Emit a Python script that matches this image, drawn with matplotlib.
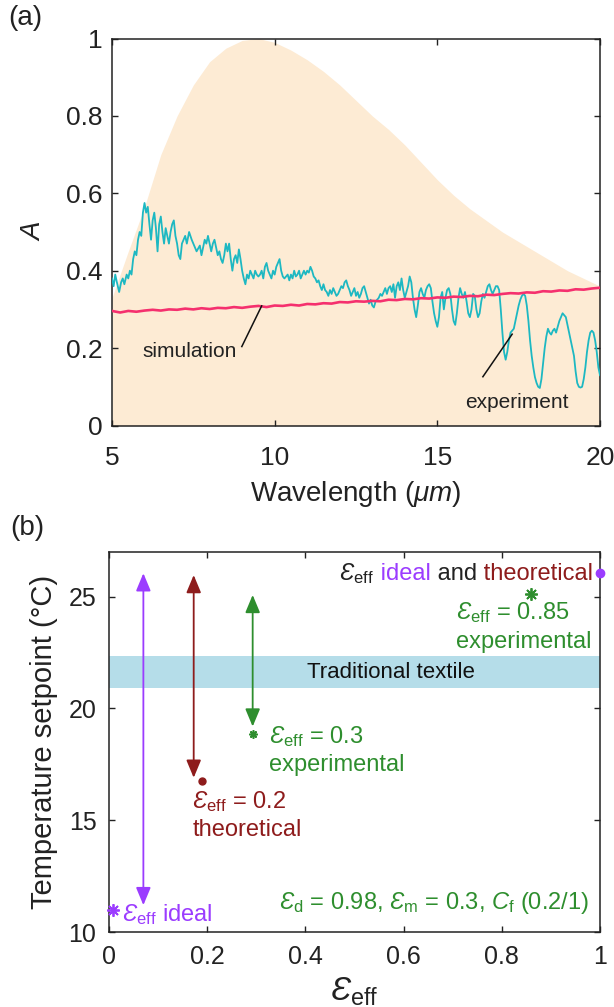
import matplotlib
matplotlib.use("Agg")
import matplotlib.pyplot as plt
from matplotlib.offsetbox import TextArea, HPacker, AnnotationBbox

plt.rcParams["font.family"] = ["Liberation Sans", "DejaVu Sans"]
plt.rcParams["mathtext.fontset"] = "custom"
plt.rcParams["mathtext.rm"] = "Liberation Sans"
plt.rcParams["mathtext.it"] = "Liberation Sans:italic"
plt.rcParams["mathtext.bf"] = "Liberation Sans:bold"

# ---------------- (a) absorptance spectra ----------------
# normalised blackbody spectrum (shaded background)
bb_wl = [5.0, 5.5, 6.0, 6.5, 7.0, 7.5, 8.0, 8.5, 9.0, 9.5, 10.0, 10.5, 11.0,
         11.5, 12.0, 12.5, 13.0, 13.5, 14.0, 14.5, 15.0, 15.5, 16.0, 16.5,
         17.0, 17.5, 18.0, 18.5, 19.0, 19.5, 20.0]
bb_val = [0.33, 0.45, 0.565, 0.70, 0.80, 0.88, 0.94, 0.975, 0.995, 1.0, 0.99,
          0.97, 0.945, 0.915, 0.88, 0.84, 0.80, 0.765, 0.725, 0.68, 0.635,
          0.595, 0.56, 0.53, 0.50, 0.475, 0.45, 0.425, 0.40, 0.38, 0.36]

# simulated absorptance
sim_wl = [5.0 + 0.25 * i for i in range(61)]
sim_abs = [0.296, 0.292, 0.296, 0.294, 0.297, 0.299, 0.297, 0.300, 0.299, 0.302,
           0.300, 0.303, 0.301, 0.304, 0.303, 0.306, 0.304, 0.307, 0.309, 0.306,
           0.310, 0.309, 0.312, 0.310, 0.314, 0.313, 0.316, 0.315, 0.319, 0.318,
           0.321, 0.320, 0.322, 0.321, 0.325, 0.324, 0.327, 0.326, 0.329, 0.328,
           0.331, 0.330, 0.333, 0.332, 0.335, 0.334, 0.338, 0.337, 0.340, 0.342,
           0.341, 0.344, 0.343, 0.347, 0.346, 0.349, 0.348, 0.352, 0.351, 0.354,
           0.356]

# measured absorptance
exp_wl = [5.00, 5.05, 5.10, 5.15, 5.22, 5.28, 5.33, 5.38, 5.45, 5.50, 5.55, 5.60,
          5.65, 5.70, 5.75, 5.80, 5.85, 5.90, 5.95, 6.00, 6.05, 6.10, 6.15, 6.20,
          6.25, 6.30, 6.35, 6.40, 6.45, 6.50, 6.55, 6.60, 6.65, 6.70, 6.75, 6.80,
          6.85, 6.90, 6.95, 7.00, 7.05, 7.10, 7.15, 7.20, 7.25, 7.30, 7.37, 7.45,
          7.50, 7.55, 7.60, 7.70, 7.75, 7.80, 7.85, 7.90, 7.95, 8.00, 8.05, 8.10,
          8.15, 8.20, 8.25, 8.30, 8.35, 8.40, 8.45, 8.50, 8.55, 8.60, 8.65, 8.70,
          8.75, 8.80, 8.85, 8.90, 8.95, 9.00, 9.05, 9.10, 9.15, 9.20, 9.25, 9.30,
          9.35, 9.40, 9.45, 9.50, 9.55, 9.60, 9.65, 9.70, 9.75, 9.80, 9.85, 9.90,
          9.95, 10.00, 10.05, 10.10, 10.15, 10.20, 10.25, 10.30, 10.40, 10.45,
          10.50, 10.55, 10.60, 10.65, 10.70, 10.75, 10.80, 10.85, 10.90, 10.95,
          11.00, 11.05, 11.10, 11.15, 11.20, 11.25, 11.30, 11.35, 11.40, 11.45,
          11.50, 11.55, 11.60, 11.65, 11.70, 11.75, 11.80, 11.85, 11.90, 11.95,
          12.00, 12.05, 12.10, 12.15, 12.20, 12.25, 12.30, 12.35, 12.40, 12.45,
          12.50, 12.55, 12.60, 12.65, 12.70, 12.75, 12.80, 12.85, 12.90, 12.95,
          13.00, 13.05, 13.10, 13.15, 13.20, 13.25, 13.30, 13.35, 13.40, 13.45,
          13.50, 13.55, 13.60, 13.65, 13.70, 13.75, 13.80, 13.85, 13.90, 13.95,
          14.00, 14.05, 14.10, 14.15, 14.20, 14.25, 14.30, 14.35, 14.40, 14.45,
          14.50, 14.55, 14.60, 14.65, 14.70, 14.75, 14.80, 14.85, 14.90, 14.95,
          15.00, 15.05, 15.10, 15.15, 15.20, 15.25, 15.30, 15.35, 15.40, 15.45,
          15.50, 15.55, 15.60, 15.65, 15.70, 15.75, 15.80, 15.85, 15.90, 15.95,
          16.00, 16.05, 16.10, 16.15, 16.20, 16.25, 16.30, 16.35, 16.40, 16.45,
          16.50, 16.55, 16.60, 16.65, 16.70, 16.75, 16.80, 16.85, 16.90, 16.95,
          17.00, 17.05, 17.10, 17.15, 17.20, 17.25, 17.30, 17.35, 17.40, 17.45,
          17.50, 17.55, 17.60, 17.65, 17.70, 17.75, 17.80, 17.85, 17.90, 17.95,
          18.00, 18.05, 18.10, 18.15, 18.20, 18.25, 18.30, 18.35, 18.40, 18.45,
          18.50, 18.55, 18.60, 18.65, 18.70, 18.75, 18.80, 18.85, 18.90, 18.95,
          19.00, 19.05, 19.10, 19.15, 19.20, 19.25, 19.30, 19.35, 19.40, 19.45,
          19.50, 19.55, 19.60, 19.65, 19.70, 19.75, 19.80, 19.85, 19.90, 19.95,
          20.00]
exp_abs = [0.38, 0.36, 0.39, 0.37, 0.345, 0.37, 0.38, 0.365, 0.39, 0.38, 0.40, 0.39,
           0.43, 0.45, 0.44, 0.48, 0.50, 0.49, 0.55, 0.575, 0.55, 0.565, 0.52, 0.48,
           0.53, 0.55, 0.51, 0.45, 0.52, 0.54, 0.50, 0.47, 0.51, 0.49, 0.47, 0.50,
           0.52, 0.53, 0.49, 0.47, 0.44, 0.43, 0.47, 0.48, 0.49, 0.47, 0.50, 0.48,
           0.47, 0.46, 0.45, 0.465, 0.44, 0.46, 0.48, 0.47, 0.49, 0.47, 0.45, 0.47,
           0.48, 0.46, 0.44, 0.45, 0.43, 0.42, 0.44, 0.47, 0.45, 0.47, 0.43, 0.40,
           0.43, 0.44, 0.42, 0.455, 0.43, 0.40, 0.38, 0.365, 0.39, 0.38, 0.40, 0.39,
           0.38, 0.40, 0.39, 0.385, 0.39, 0.40, 0.38, 0.41, 0.42, 0.40, 0.39, 0.38,
           0.40, 0.39, 0.41, 0.42, 0.43, 0.40, 0.385, 0.38, 0.39, 0.375,
           0.39, 0.38, 0.40, 0.385, 0.39, 0.40, 0.38, 0.39, 0.40, 0.39,
           0.40, 0.395, 0.41, 0.40, 0.385, 0.38, 0.37, 0.375, 0.36, 0.35,
           0.365, 0.35, 0.345, 0.335, 0.35, 0.34, 0.355, 0.345, 0.335, 0.34,
           0.35, 0.36, 0.355, 0.37, 0.375, 0.36, 0.35, 0.335, 0.345, 0.355,
           0.335, 0.345, 0.33, 0.34, 0.355, 0.36, 0.345, 0.33, 0.315, 0.325,
           0.31, 0.305, 0.32, 0.325, 0.33, 0.34, 0.335, 0.345, 0.355, 0.34,
           0.355, 0.36, 0.345, 0.365, 0.33, 0.36, 0.37, 0.35, 0.38, 0.35,
           0.33, 0.345, 0.36, 0.385, 0.37, 0.33, 0.30, 0.28, 0.31, 0.345,
           0.355, 0.34, 0.33, 0.35, 0.36, 0.365, 0.355, 0.32, 0.29, 0.27,
           0.255, 0.28, 0.33, 0.345, 0.30, 0.33, 0.35, 0.355, 0.34, 0.30,
           0.27, 0.26, 0.29, 0.33, 0.355, 0.34, 0.33, 0.345, 0.32, 0.29,
           0.28, 0.30, 0.34, 0.335, 0.30, 0.28, 0.29, 0.32, 0.34, 0.33,
           0.345, 0.36, 0.365, 0.35, 0.34, 0.35, 0.36, 0.36, 0.35, 0.30,
           0.24, 0.19, 0.17, 0.19, 0.22, 0.24, 0.245, 0.25, 0.27, 0.29,
           0.31, 0.325, 0.335, 0.34, 0.335, 0.31, 0.27, 0.22, 0.18, 0.15,
           0.125, 0.11, 0.10, 0.097, 0.12, 0.16, 0.20, 0.23, 0.25, 0.24,
           0.235, 0.245, 0.25, 0.24, 0.255, 0.27, 0.28, 0.29, 0.285, 0.28,
           0.26, 0.24, 0.22, 0.20, 0.18, 0.14, 0.11, 0.10, 0.098, 0.10,
           0.12, 0.15, 0.19, 0.22, 0.24, 0.245, 0.24, 0.22, 0.19, 0.15,
           0.13]

# ---------------- (b) temperature setpoint ranges ----------------
arrow_eps = [0.07, 0.1725, 0.2926]
arrow_top = [26.05, 25.97, 25.08]
arrow_bottom = [11.2, 16.9, 19.19]
band_low, band_high = 20.9, 22.35

EPS = r"$\mathit{Ɛ}_{\mathrm{eff}}$"
C_AX = "#222222"
C_FILL = "#fdebd4"
C_EXP = "#1db8c2"
C_SIM = "#f5306e"
C_PUR = "#9b3cff"
C_RED = "#8e1c1c"
C_GRN = "#2e8e2e"
C_BAND = "#b5dde9"

fig = plt.figure(figsize=(6.14, 10.07), dpi=100)


def style_axes(ax, xpad, ypad, tick_size):
    for s in ax.spines.values():
        s.set_linewidth(1.1)
        s.set_color(C_AX)
    ax.tick_params(direction="in", length=4.5, width=1.0, color=C_AX,
                   top=True, right=True, labelsize=tick_size, labelcolor="#222222")
    ax.tick_params(axis="x", pad=xpad)
    ax.tick_params(axis="y", pad=ypad)


# panel (a)
ax1 = fig.add_axes([112 / 614, 1 - 425.5 / 1007, 488 / 614, 387 / 1007])
ax1.fill_between(bb_wl, 0, bb_val, color=C_FILL, lw=0, zorder=1)
ax1.plot(exp_wl, exp_abs, color=C_EXP, lw=1.3, zorder=3)
ax1.plot(sim_wl, sim_abs, color=C_SIM, lw=1.9, zorder=4)
ax1.set_xlim(5, 20)
ax1.set_ylim(0, 1)
ax1.set_xticks([5, 10, 15, 20])
ax1.set_xticklabels(["5", "10", "15", "20"])
ax1.set_yticks([0, 0.2, 0.4, 0.6, 0.8, 1.0])
ax1.set_yticklabels(["0", "0.2", "0.4", "0.6", "0.8", "1"])
style_axes(ax1, 15, 6.5, 19)
ax1.set_xlabel(r"Wavelength ($\mathit{\mu m}$)", fontsize=20, labelpad=6, color="#222222")
ax1.set_ylabel("A", fontsize=20, style="italic", labelpad=14, color="#222222")

ax1.plot([8.99, 9.6], [0.204, 0.309], color="#111111", lw=1.1, zorder=5)
ax1.text(7.4, 0.19, "simulation", fontsize=15, ha="center", va="center", color="#222222")
ax1.plot([16.4, 17.3], [0.126, 0.236], color="#111111", lw=1.1, zorder=5)
ax1.text(17.45, 0.06, "experiment", fontsize=15, ha="center", va="center", color="#222222")

fig.text(25 / 614, 1 - 18 / 1007, "(a)", fontsize=20, ha="center", va="center", color="#222222")
fig.text(27 / 614, 1 - 528 / 1007, "(b)", fontsize=20, ha="center", va="center", color="#222222")

# panel (b)
ax2 = fig.add_axes([109 / 614, 1 - 932 / 1007, 491 / 614, 380 / 1007])
ax2.set_xlim(0, 1)
ax2.set_ylim(10, 27)
ax2.axhspan(band_low, band_high, color=C_BAND, lw=0, zorder=1)
ax2.text(0.574, (band_low + band_high) / 2, "Traditional textile", fontsize=16,
         ha="center", va="center", color="#111111", zorder=2)

for x, yt, yb, c in zip(arrow_eps, arrow_top, arrow_bottom, [C_PUR, C_RED, C_GRN]):
    ax2.annotate("", xy=(x, yt), xytext=(x, yb),
                 arrowprops=dict(arrowstyle="<|-|>,head_length=0.6,head_width=0.25",
                                 color=c, lw=1.3, mutation_scale=18,
                                 shrinkA=0, shrinkB=0), zorder=3)

ax2.plot([0.008], [10.98], marker=(8, 2, 0), ms=9, mew=1.3, color=C_PUR, ls="none", clip_on=False, zorder=4)
ax2.plot([0.19], [16.77], marker="o", ms=5, color=C_RED, ls="none", zorder=4)
ax2.plot([0.2926], [18.86], marker=(8, 2, 0), ms=6, mew=1.2, color=C_GRN, ls="none", zorder=4)
ax2.plot([0.86], [25.1], marker=(8, 2, 0), ms=9, mew=1.3, color=C_GRN, ls="none", zorder=4)
ax2.plot([1.0], [26.05], marker="o", ms=6, color=C_PUR, ls="none", clip_on=False, zorder=4)

ax2.text(0.026, 10.8, EPS + " ideal", fontsize=17, color=C_PUR, ha="left", va="center")
ax2.text(0.17, 15.83, EPS + " = 0.2", fontsize=17, color=C_RED, ha="left", va="center")
ax2.text(0.17, 14.56, "theoretical", fontsize=17, color=C_RED, ha="left", va="center")
ax2.text(0.326, 18.74, EPS + " = 0.3", fontsize=17, color=C_GRN, ha="left", va="center")
ax2.text(0.326, 17.47, "experimental", fontsize=17, color=C_GRN, ha="left", va="center")
ax2.text(0.706, 24.27, EPS + " = 0..85", fontsize=17, color=C_GRN, ha="left", va="center")
ax2.text(0.706, 22.99, "experimental", fontsize=17, color=C_GRN, ha="left", va="center")
ax2.text(0.978, 11.3,
         r"$\mathit{Ɛ}_{\mathrm{d}}$ = 0.98, $\mathit{Ɛ}_{\mathrm{m}}$ = 0.3, $\mathit{C}_{\mathrm{f}}$ (0.2/1)",
         fontsize=17, color=C_GRN, ha="right", va="center")

parts = [(EPS, "#222222"), (" ideal", C_PUR), (" and", "#222222"), (" theoretical", C_RED)]
boxes = [TextArea(t, textprops=dict(fontsize=17, color=c)) for t, c in parts]
row = HPacker(children=boxes, align="baseline", pad=0, sep=0)
ab = AnnotationBbox(row, (0.985, 26.05), xycoords="data", box_alignment=(1, 0.5),
                    frameon=False, pad=0)
ax2.add_artist(ab)

ax2.set_xticks([0, 0.2, 0.4, 0.6, 0.8, 1.0])
ax2.set_xticklabels(["0", "0.2", "0.4", "0.6", "0.8", "1"])
ax2.set_yticks([10, 15, 20, 25])
style_axes(ax2, 9, 9, 18)
ax2.set_xlabel(EPS, fontsize=24, labelpad=5, color="#222222")
ax2.set_ylabel("Temperature setpoint (°C)", fontsize=21, labelpad=8, color="#222222")

fig.savefig("out.png", dpi=100)
